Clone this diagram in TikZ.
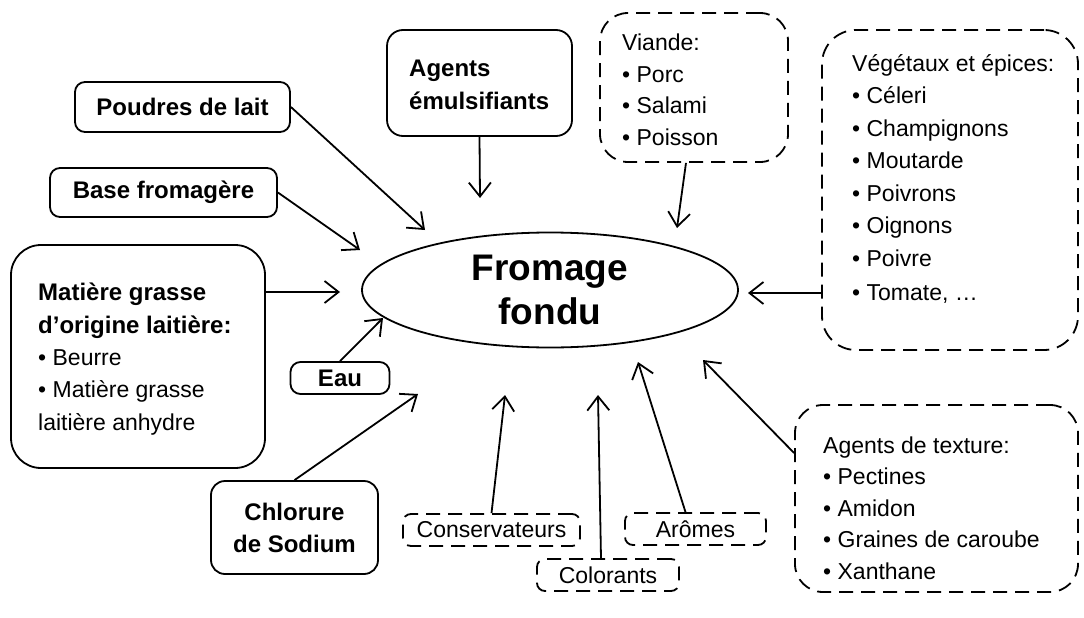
\documentclass[tikz,border=0pt]{standalone}
\usepackage{fontspec}
\setmainfont{Liberation Sans}
\usetikzlibrary{arrows.meta}
\usetikzlibrary{shapes.geometric}

\begin{document}
\begin{tikzpicture}[x=1pt,y=-1pt,
  box/.style={draw, line width=1.8pt, rounded corners=10pt, inner sep=0pt, align=center,
    font=\fontsize{24}{32}\selectfont\bfseries},
  dbox/.style={draw, line width=1.8pt, rounded corners=28pt, dash pattern=on 14pt off 8pt,
    inner sep=0pt, align=center, font=\fontsize{23}{31.5}\selectfont},
  list/.style={anchor=west, inner sep=0pt, align=left, font=\fontsize{23}{31.5}\selectfont},
  fl/.style={line width=1.8pt, -{Straight Barb[length=14pt,width=22pt,line width=1.8pt]}}]
\useasboundingbox (0,0) rectangle (1084,618);

% centre
\node[draw, ellipse, line width=1.8pt, minimum width=376pt, minimum height=115pt, inner sep=0pt,
  align=center, font=\fontsize{37}{50}\selectfont\bfseries] (fromage) at (550,290) {\raisebox{-6pt}{Fromage}\\fondu};

% solid boxes
\node[box, minimum width=215pt, minimum height=50pt] (poudres) at (182.5,107) {Poudres de lait};
\node[box, minimum width=227pt, minimum height=49pt] (base) at (163.5,192.5) {Base fromagère};
\node[box, rounded corners=30pt, minimum width=254pt, minimum height=223pt] (matiere) at (138,356.5) {};
\node[list, font=\fontsize{23}{32.3}\selectfont] (matieretxt) at (38,359)
  {\bfseries\fontsize{24}{32.3}\selectfont Matière grasse\\\bfseries\fontsize{24}{32.3}\selectfont d’origine laitière:\\• Beurre\\• Matière grasse\\laitière anhydre};
\node[box, minimum width=99pt, minimum height=32pt] (eau) at (340,378) {Eau};
\node[box, rounded corners=14pt, minimum width=167pt, minimum height=93pt] (chlorure) at (294.5,527.5) {Chlorure\\de Sodium};
\node[box, rounded corners=16pt, minimum width=185pt, minimum height=106pt] (agents) at (479.5,83) {};
\node[list, font=\fontsize{24}{33}\selectfont\bfseries] (agentstxt) at (409,85) {Agents\\émulsifiants};

% dashed boxes
\node[dbox, minimum width=188pt, minimum height=149pt] (viande) at (694,87.5) {};
\node[list] (viandetxt) at (622,90) {Viande:\\• Porc\\• Salami\\• Poisson};
\node[dbox, rounded corners=34pt, minimum width=256pt, minimum height=320pt] (vegetaux) at (950,190) {};
\node[list, font=\fontsize{23}{32.5}\selectfont] (vegetauxtxt) at (852,179)
  {Végétaux et épices:\\• Céleri\\• Champignons\\• Moutarde\\• Poivrons\\• Oignons\\• Poivre\\[2pt]• Tomate, \ldots};
\node[dbox, minimum width=283pt, minimum height=187pt] (texture) at (936.5,498.5) {};
\node[list] (texturetxt) at (823,508)
  {Agents de texture:\\• Pectines\\• Amidon\\• Graines de caroube\\• Xanthane};
\node[dbox, rounded corners=8pt, minimum width=177pt, minimum height=32pt] (conserv) at (491.5,530) {Conservateurs};
\node[dbox, rounded corners=8pt, minimum width=142pt, minimum height=32pt] (colorants) at (608,575) {Colorants};
\node[dbox, rounded corners=8pt, minimum width=141pt, minimum height=32pt] (aromes) at (695.5,529) {Arômes};

% arrow tips
\coordinate (tpoudres) at (425,230);
\coordinate (tbase) at (360,250);
\coordinate (tmatiere) at (340,292);
\coordinate (teau) at (383,318);
\coordinate (tchlorure) at (418,394);
\coordinate (tagents) at (480,198);
\coordinate (tviande) at (677,228);
\coordinate (tvegetaux) at (748,293);
\coordinate (ttexture) at (703,360);
\coordinate (taromes) at (638,362);
\coordinate (tcolorants) at (598,395);
\coordinate (tconserv) at (505,395);

\draw[fl] (poudres.east) -- (tpoudres);
\draw[fl] (base.east) -- (tbase);
\draw[fl] (tmatiere -| matiere.east) -- (tmatiere);
\draw[fl] (eau.north) -- (teau);
\draw[fl] (chlorure.north) -- (tchlorure);
\draw[fl] (agents.south) -- (tagents);
\draw[fl] ([xshift=-8pt]viande.south) -- (tviande);
\draw[fl] (tvegetaux -| vegetaux.west) -- (tvegetaux);
\draw[fl] ([yshift=45.5pt]texture.west) -- (ttexture);
\draw[fl] ([xshift=-10pt]aromes.north) -- (taromes);
\draw[fl] ([xshift=-7pt]colorants.north) -- (tcolorants);
\draw[fl] (conserv.north) -- (tconserv);
\end{tikzpicture}
\end{document}
